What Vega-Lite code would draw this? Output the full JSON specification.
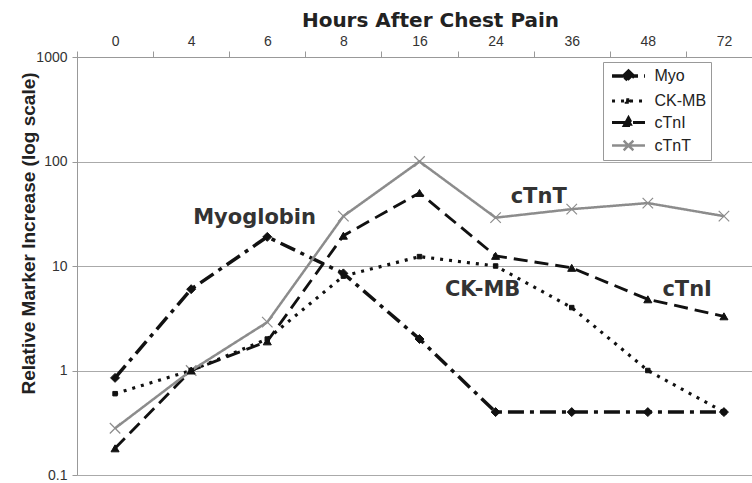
{
  "$schema": "https://vega.github.io/schema/vega-lite/v6.json",
  "width": 675,
  "height": 418,
  "autosize": "none",
  "padding": {"left": 77, "top": 57, "right": 0, "bottom": 8},
  "background": "white",
  "config": {
    "view": {"stroke": null},
    "font": "Liberation Sans"
  },
  "datasets": {
    "markers": [
      {"hour": 0, "marker": "Myo", "value": 0.85},
      {"hour": 4, "marker": "Myo", "value": 6},
      {"hour": 6, "marker": "Myo", "value": 19},
      {"hour": 8, "marker": "Myo", "value": 8.5},
      {"hour": 16, "marker": "Myo", "value": 2},
      {"hour": 24, "marker": "Myo", "value": 0.4},
      {"hour": 36, "marker": "Myo", "value": 0.4},
      {"hour": 48, "marker": "Myo", "value": 0.4},
      {"hour": 72, "marker": "Myo", "value": 0.4},
      {"hour": 0, "marker": "CK-MB", "value": 0.6},
      {"hour": 4, "marker": "CK-MB", "value": 1.0},
      {"hour": 6, "marker": "CK-MB", "value": 2.0},
      {"hour": 8, "marker": "CK-MB", "value": 8},
      {"hour": 16, "marker": "CK-MB", "value": 12.3},
      {"hour": 24, "marker": "CK-MB", "value": 10},
      {"hour": 36, "marker": "CK-MB", "value": 4},
      {"hour": 48, "marker": "CK-MB", "value": 1.0},
      {"hour": 72, "marker": "CK-MB", "value": 0.4},
      {"hour": 0, "marker": "cTnI", "value": 0.18},
      {"hour": 4, "marker": "cTnI", "value": 1.0},
      {"hour": 6, "marker": "cTnI", "value": 1.9},
      {"hour": 8, "marker": "cTnI", "value": 19.5},
      {"hour": 16, "marker": "cTnI", "value": 50},
      {"hour": 24, "marker": "cTnI", "value": 12.5},
      {"hour": 36, "marker": "cTnI", "value": 9.6},
      {"hour": 48, "marker": "cTnI", "value": 4.8},
      {"hour": 72, "marker": "cTnI", "value": 3.3},
      {"hour": 0, "marker": "cTnT", "value": 0.28},
      {"hour": 4, "marker": "cTnT", "value": 1.0},
      {"hour": 6, "marker": "cTnT", "value": 2.9},
      {"hour": 8, "marker": "cTnT", "value": 30},
      {"hour": 16, "marker": "cTnT", "value": 100},
      {"hour": 24, "marker": "cTnT", "value": 29},
      {"hour": 36, "marker": "cTnT", "value": 35},
      {"hour": 48, "marker": "cTnT", "value": 40},
      {"hour": 72, "marker": "cTnT", "value": 30}
    ],
    "labels": [
      {"name": "Myoglobin", "hour": 4, "value": 28.8},
      {"name": "cTnT", "hour": 36, "value": 45.7},
      {"name": "CK-MB", "hour": 24, "value": 5.9},
      {"name": "cTnI", "hour": 72, "value": 5.9}
    ]
  },
  "layer": [
    {
      "data": {"name": "markers"},
      "mark": {"type": "line", "strokeCap": "butt"},
      "encoding": {
        "x": {
          "field": "hour", "type": "ordinal", "bandPosition": 0.5,
          "scale": {"type": "band", "range": [0, 685], "paddingInner": 0, "paddingOuter": 0},
          "axis": {
            "orient": "top",
            "title": "Hours After Chest Pain",
            "titleFont": "DejaVu Sans", "titleFontSize": 20, "titleFontWeight": "bold", "titleColor": "#222",
            "titleX": 353, "titleY": -31, "titleBaseline": "alphabetic", "titleAnchor": "middle", "titleAlign": "center",
            "labelFont": "Liberation Sans", "labelFontSize": 14, "labelColor": "#333", "labelAngle": 0,
            "labelPadding": 3, "tickBand": "extent", "tickSize": 6, "tickColor": "#999", "domainColor": "#999",
            "grid": false
          }
        },
        "y": {
          "field": "value", "type": "quantitative",
          "scale": {"type": "log", "domain": [0.1, 1000], "nice": false},
          "axis": {
            "values": [0.1, 1, 10, 100, 1000], "format": "~g",
            "title": "Relative Marker Increase (log scale)",
            "titleFont": "Liberation Sans", "titleFontSize": 19, "titleFontWeight": "bold", "titleColor": "#222",
            "titleX": -43, "titleY": 176, "titleBaseline": "alphabetic", "titleAngle": -90, "titleAlign": "center",
            "labelFont": "Liberation Sans", "labelFontSize": 14, "labelColor": "#333", "labelPadding": 5,
            "tickSize": 5, "tickColor": "#999", "domainColor": "#999",
            "grid": true, "gridColor": "#aaa", "gridWidth": 1
          }
        },
        "detail": {"field": "marker"},
        "stroke": {
          "field": "marker", "type": "nominal",
          "scale": {"domain": ["Myo", "CK-MB", "cTnI", "cTnT"], "range": ["#111", "#111", "#111", "#8c8c8c"]},
          "legend": {
            "title": null, "orient": "none", "legendX": 526, "legendY": 5,
            "direction": "vertical",
            "strokeColor": "#999", "fillColor": "white", "padding": 4,
            "labelFont": "Liberation Sans", "labelFontSize": 16, "labelColor": "#222",
            "symbolSize": 256, "rowPadding": 3, "labelOffset": 16, "symbolOffset": 11.5,
            "encode": {
              "symbols": {
                "update": {
                  "shape": {"signal": "datum.value === 'Myo' ? 'M-2.06,0L2.06,0M-0.62,0L0,-0.6L0.62,0L0,0.6Z' : datum.value === 'CK-MB' ? 'M-2.06,0L2.06,0M-0.28,-0.16L0.28,-0.16L0.28,0.16L-0.28,0.16Z' : datum.value === 'cTnI' ? 'M-2.06,0L2.06,0M-0.54,0.4L0,-0.6L0.54,0.4Z' : 'M-2.06,0L2.06,0M-0.6,-0.6L0.6,0.6M-0.6,0.6L0.6,-0.6'"},
                  "fill": {"signal": "datum.value === 'cTnT' ? 'transparent' : '#111'"}
                }
              }
            }
          }
        },
        "strokeDash": {
          "field": "marker", "type": "nominal",
          "scale": {"domain": ["Myo", "CK-MB", "cTnI", "cTnT"], "range": [[16, 6, 4, 6], [3, 6], [14, 7], [1, 0]]},
          "legend": {"title": null}
        },
        "strokeWidth": {
          "field": "marker", "type": "nominal",
          "scale": {"domain": ["Myo", "CK-MB", "cTnI", "cTnT"], "range": [3.5, 2.5, 2.5, 1.2]},
          "legend": {"title": null}
        }
      }
    },
    {
      "data": {"name": "markers"},
      "transform": [{"filter": "datum.marker === 'cTnT'"}],
      "mark": {"type": "point", "shape": "M-1,-1L1,1M-1,1L1,-1", "size": 110, "filled": false, "stroke": "#8c8c8c", "strokeWidth": 1.2, "opacity": 1},
      "encoding": {
        "x": {"field": "hour", "type": "ordinal", "bandPosition": 0.5},
        "y": {"field": "value", "type": "quantitative"}
      }
    },
    {
      "data": {"name": "markers"},
      "transform": [{"filter": "datum.marker === 'Myo'"}],
      "mark": {"type": "point", "shape": "diamond", "size": 80, "filled": true, "fill": "#111", "stroke": "#111", "strokeWidth": 1, "opacity": 1},
      "encoding": {
        "x": {"field": "hour", "type": "ordinal", "bandPosition": 0.5},
        "y": {"field": "value", "type": "quantitative"}
      }
    },
    {
      "data": {"name": "markers"},
      "transform": [{"filter": "datum.marker === 'CK-MB'"}],
      "mark": {"type": "point", "shape": "square", "size": 20, "filled": true, "fill": "#111", "stroke": "#111", "strokeWidth": 1, "opacity": 1},
      "encoding": {
        "x": {"field": "hour", "type": "ordinal", "bandPosition": 0.5},
        "y": {"field": "value", "type": "quantitative"}
      }
    },
    {
      "data": {"name": "markers"},
      "transform": [{"filter": "datum.marker === 'cTnI'"}],
      "mark": {"type": "point", "shape": "triangle-up", "size": 65, "filled": true, "fill": "#111", "stroke": "#111", "strokeWidth": 1, "opacity": 1},
      "encoding": {
        "x": {"field": "hour", "type": "ordinal", "bandPosition": 0.5},
        "y": {"field": "value", "type": "quantitative"}
      }
    },
    {
      "data": {"name": "labels"},
      "transform": [{"filter": "datum.name === 'Myoglobin'"}],
      "mark": {"type": "text", "font": "DejaVu Sans", "fontWeight": "bold", "fontSize": 21, "color": "#333", "align": "left", "baseline": "middle", "dx": 2},
      "encoding": {
        "x": {"field": "hour", "type": "ordinal", "bandPosition": 0.5},
        "y": {"field": "value", "type": "quantitative"},
        "text": {"field": "name"}
      }
    },
    {
      "data": {"name": "labels"},
      "transform": [{"filter": "datum.name === 'cTnT'"}],
      "mark": {"type": "text", "font": "DejaVu Sans", "fontWeight": "bold", "fontSize": 21, "color": "#333", "align": "right", "baseline": "middle", "dx": -5},
      "encoding": {
        "x": {"field": "hour", "type": "ordinal", "bandPosition": 0.5},
        "y": {"field": "value", "type": "quantitative"},
        "text": {"field": "name"}
      }
    },
    {
      "data": {"name": "labels"},
      "transform": [{"filter": "datum.name === 'CK-MB'"}],
      "mark": {"type": "text", "font": "DejaVu Sans", "fontWeight": "bold", "fontSize": 21, "color": "#333", "align": "center", "baseline": "middle", "dx": -13},
      "encoding": {
        "x": {"field": "hour", "type": "ordinal", "bandPosition": 0.5},
        "y": {"field": "value", "type": "quantitative"},
        "text": {"field": "name"}
      }
    },
    {
      "data": {"name": "labels"},
      "transform": [{"filter": "datum.name === 'cTnI'"}],
      "mark": {"type": "text", "font": "DejaVu Sans", "fontWeight": "bold", "fontSize": 21, "color": "#333", "align": "right", "baseline": "middle", "dx": -12},
      "encoding": {
        "x": {"field": "hour", "type": "ordinal", "bandPosition": 0.5},
        "y": {"field": "value", "type": "quantitative"},
        "text": {"field": "name"}
      }
    }
  ]
}
